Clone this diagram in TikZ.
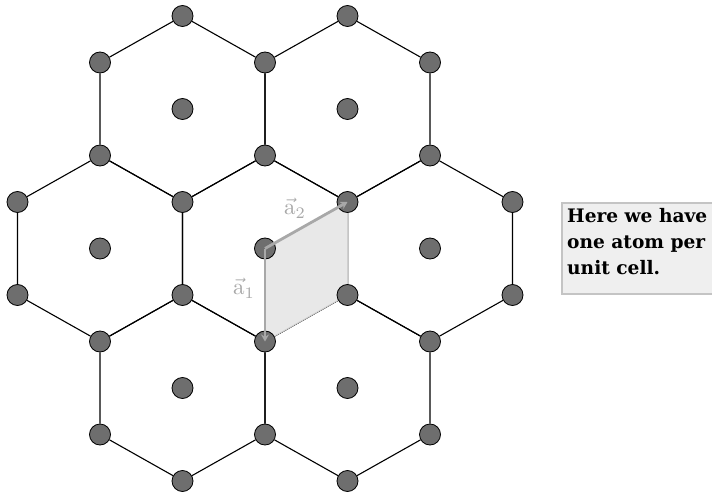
\documentclass[tikz,border=0pt]{standalone}
\usepackage{fontspec}
\newfontfamily\boxfont{DejaVu Serif}
\usetikzlibrary{arrows.meta}
\definecolor{atomgray}{HTML}{6E6E6E}
\definecolor{vecgray}{HTML}{A8A8A8}
\definecolor{cellfill}{HTML}{E8E8E8}
\definecolor{celledge}{HTML}{CFCFCF}
\definecolor{boxfill}{HTML}{EFEFEF}
\definecolor{boxedge}{HTML}{C4C4C4}
\pgfdeclarelayer{edges}
\pgfdeclarelayer{cell}
\pgfsetlayers{edges,cell,main}
\begin{document}
\begin{tikzpicture}[x=1pt,y=-1pt,
  atom/.style={circle,draw=black,line width=0.8pt,fill=atomgray,minimum size=21pt,inner sep=0pt},
  edge/.style={draw=black,line width=1.1pt},
  vec/.style={draw=vecgray,line width=2.8pt,-{Stealth[length=7pt,width=8pt]}},
  veclabel/.style={text=vecgray,scale=2.3},
  note/.style={font=\boxfont\bfseries\fontsize{18.6}{26}\selectfont,align=left,anchor=north west,inner sep=0pt}]
\useasboundingbox (0,0) rectangle (712,497);
% atoms of the lattice
\foreach \i/\j in {0/-2,0/2,1/1,1/-1,-1/1,-1/-1,2/2,2/-2,-2/2,-2/-2,3/1,3/-1,-3/1,-3/-1,
                   1/5,1/-5,-1/5,-1/-5,2/4,2/-4,-2/4,-2/-4,0/4,0/-4,
                   0/0,2/0,-2/0,1/3,-1/3,1/-3,-1/-3}{
  \node[atom] (p\i y\j) at ({265+82.5*\i},{248.5+46.5*\j}) {};
}
% hexagon edges
\begin{pgfonlayer}{edges}
\foreach \ci/\cj in {0/0,2/0,-2/0,1/3,-1/3,1/-3,-1/-3}{
  \pgfmathtruncatemacro\il{\ci-1}
  \pgfmathtruncatemacro\ir{\ci+1}
  \pgfmathtruncatemacro\jt{\cj-2}
  \pgfmathtruncatemacro\jb{\cj+2}
  \pgfmathtruncatemacro\ju{\cj-1}
  \pgfmathtruncatemacro\jd{\cj+1}
  \draw[edge] (p\ci y\jt) -- (p\ir y\ju) -- (p\ir y\jd) -- (p\ci y\jb) -- (p\il y\jd) -- (p\il y\ju) -- (p\ci y\jt);
}
\end{pgfonlayer}
% unit cell
\begin{pgfonlayer}{cell}
\fill[cellfill] (p0y0.center) -- (p1y-1.center) -- (p1y1.center) -- (p0y2.center) -- cycle;
\draw[celledge,line width=1pt] (p1y-1.center) -- (p1y1.center) -- (p0y2.center);
\end{pgfonlayer}
% lattice vectors
\draw[vec] (p0y0.center) -- (p0y2.center);
\draw[vec] (p0y0.center) -- (p1y-1.center);
\node[veclabel] (la1) at (244,288) {$\vec{\mathrm{a}}_1$};
\node[veclabel] (la2) at (295,208) {$\vec{\mathrm{a}}_2$};
% text box
\fill[boxfill] (562,203) rectangle (712,294);
\draw[boxedge,line width=1.2pt] (712,203) -- (562,203) -- (562,294) -- (712,294);
\node[note] (txt) at (567,208) {Here we have\\one atom per\\unit cell.};
\end{tikzpicture}
\end{document}
